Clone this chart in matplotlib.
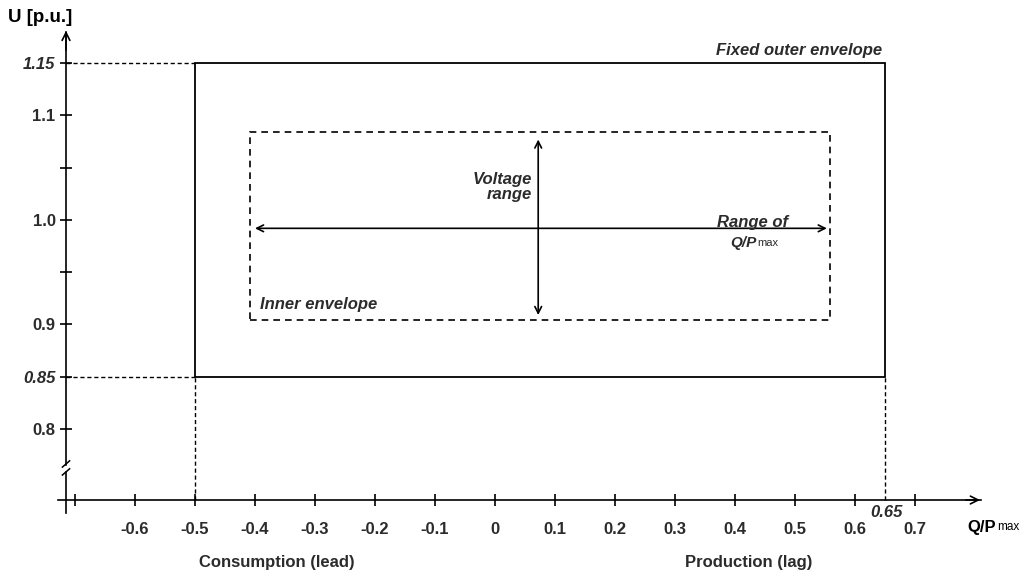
import numpy as np
from matplotlib import pyplot as plt
from matplotlib.patches import Rectangle

plt.rcParams['font.family'] = ['Liberation Sans', 'DejaVu Sans']
plt.rcParams['axes.unicode_minus'] = False

# Envelope data (Q/Pmax, U in p.u.)
outer_q = [-0.5, 0.65]
outer_u = [0.85, 1.15]
inner_q = [-0.408, 0.558]
inner_u = [0.904, 1.084]
arrow_q = [-0.40, 0.553]
arrow_u = [0.909, 1.077]
arrow_q_at = 0.072
arrow_u_at = 0.992

x_ticks = [-0.7, -0.6, -0.5, -0.4, -0.3, -0.2, -0.1, 0, 0.1, 0.2, 0.3, 0.4, 0.5, 0.6, 0.7]
x_labels = ['', '-0.6', '-0.5', '-0.4', '-0.3', '-0.2', '-0.1', '0', '0.1', '0.2', '0.3', '0.4', '0.5', '0.6', '0.7']
y_ticks = [0.8, 0.85, 0.9, 0.95, 1.0, 1.05, 1.1, 1.15]
y_labels = ['0.8', '0.85', '0.9', '', '1.0', '', '1.1', '1.15']

txt = '#2b2b2b'

fig = plt.figure(figsize=(10.22, 5.74), dpi=100)
ax = fig.add_axes([0, 0, 1, 1])
ax.set_xlim(-0.825, 0.8783)
ax.set_ylim(0.6612, 1.2105)

# axes drawn as spines crossing at (-0.715, 0.732)
y_axis_x = -0.715
x_axis_y = 0.732
ax.spines['top'].set_visible(False)
ax.spines['right'].set_visible(False)
ax.spines['left'].set_position(('data', y_axis_x))
ax.spines['bottom'].set_position(('data', x_axis_y))
ax.spines['left'].set_bounds(0.72, 1.18)
ax.spines['bottom'].set_bounds(-0.728, 0.81)
for s in ['left', 'bottom']:
    ax.spines[s].set_linewidth(1.2)

ax.set_xticks(x_ticks)
ax.set_xticklabels(x_labels)
ax.set_yticks(y_ticks)
ax.set_yticklabels(y_labels)
ax.tick_params(axis='x', direction='inout', length=9, width=1.2, pad=11,
               labelsize=12, labelcolor=txt)
ax.tick_params(axis='y', direction='inout', length=9, width=1.2, pad=3,
               labelsize=12, labelcolor=txt)
for lab in ax.get_xticklabels() + ax.get_yticklabels():
    lab.set_fontweight('bold')
    if lab.get_text() in ('0.85', '1.15'):
        lab.set_fontstyle('italic')

# arrow heads on the axes
ax.annotate('', xy=(0.813, x_axis_y), xytext=(0.78, x_axis_y),
            arrowprops=dict(arrowstyle='->', lw=1.2, color='black', mutation_scale=14))
ax.annotate('', xy=(y_axis_x, 1.1837), xytext=(y_axis_x, 1.16),
            arrowprops=dict(arrowstyle='->', lw=1.2, color='black', mutation_scale=14))

# axis break
ax.add_patch(Rectangle((y_axis_x - 0.004, 0.7607), 0.008, 0.0042, color='white', zorder=3))
for yb in [0.7589, 0.7665]:
    ax.plot([y_axis_x - 0.006, y_axis_x + 0.006], [yb - 0.003, yb + 0.003],
            color='black', lw=1.1, zorder=4)

# fixed outer envelope
ax.add_patch(Rectangle((outer_q[0], outer_u[0]), outer_q[1] - outer_q[0],
                       outer_u[1] - outer_u[0], fill=False, lw=1.3, ec='black'))
dash = dict(color='black', lw=1.0, ls=(0, (3, 2)))
ax.plot([y_axis_x, outer_q[0]], [outer_u[1], outer_u[1]], **dash)
ax.plot([y_axis_x, outer_q[0]], [outer_u[0], outer_u[0]], **dash)
ax.plot([outer_q[0], outer_q[0]], [x_axis_y, outer_u[0]], **dash)
ax.plot([outer_q[1], outer_q[1]], [x_axis_y, outer_u[0]], **dash)

# inner envelope
ax.add_patch(Rectangle((inner_q[0], inner_u[0]), inner_q[1] - inner_q[0],
                       inner_u[1] - inner_u[0], fill=False, lw=1.2, ec='black',
                       ls=(0, (4, 3))))

# range arrows
ax.annotate('', xy=(arrow_q[0], arrow_u_at), xytext=(arrow_q[1], arrow_u_at),
            arrowprops=dict(arrowstyle='<->', lw=1.2, color='black', mutation_scale=12,
                            shrinkA=0, shrinkB=0))
ax.annotate('', xy=(arrow_q_at, arrow_u[0]), xytext=(arrow_q_at, arrow_u[1]),
            arrowprops=dict(arrowstyle='<->', lw=1.2, color='black', mutation_scale=12,
                            shrinkA=0, shrinkB=0))

# annotations
ax.text(-0.8117, 1.1933, 'U [p.u.]', fontsize=13.5, fontweight='bold', color='black',
        ha='left', va='center')
ax.text(0.645, 1.155, 'Fixed outer envelope', fontsize=12, fontweight='bold',
        fontstyle='italic', color=txt, ha='right', va='bottom')
ax.text(0.062, 1.0316, 'Voltage\nrange', fontsize=12, fontweight='bold', fontstyle='italic',
        color=txt, ha='right', va='center', multialignment='right', linespacing=1.05)
ax.text(0.488, 0.998, 'Range of', fontsize=12, fontweight='bold', fontstyle='italic',
        color=txt, ha='right', va='center')
qp_in = ax.text(0.392, 0.978, 'Q/P', fontsize=11, fontweight='bold', fontstyle='italic',
                color=txt, ha='left', va='center')
ax.annotate('max', xy=(1, 0), xycoords=qp_in, xytext=(0.5, 1.5), textcoords='offset points',
            fontsize=8, color=txt, ha='left', va='bottom')
ax.text(-0.392, 0.9187, 'Inner envelope', fontsize=12, fontweight='bold', fontstyle='italic',
        color=txt, ha='left', va='center')
ax.text(0.652, 0.7196, '0.65', fontsize=12, fontweight='bold', fontstyle='italic',
        color=txt, ha='center', va='center')
qp_ax = ax.text(0.788, 0.7057, 'Q/P', fontsize=12, fontweight='bold', color='black',
                ha='left', va='center')
ax.annotate('max', xy=(1, 0), xycoords=qp_ax, xytext=(0.3, 1.5), textcoords='offset points',
            fontsize=8.5, color='black', ha='left', va='bottom')
ax.text(-0.363, 0.6718, 'Consumption (lead)', fontsize=12, fontweight='bold', color=txt,
        ha='center', va='center')
ax.text(0.423, 0.6718, 'Production (lag)', fontsize=12, fontweight='bold', color=txt,
        ha='center', va='center')

fig.savefig('out.png', dpi=100)
